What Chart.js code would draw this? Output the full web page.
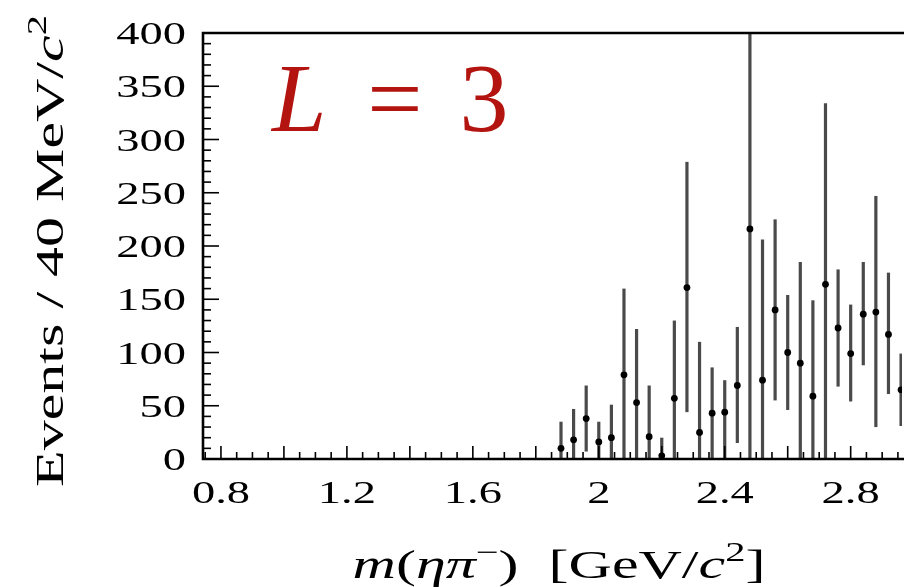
<!DOCTYPE html>
<html>
  <head>
    <meta charset="utf-8"/>
    <style type="text/css">
      body {
        margin: 0px;
        padding: 0px;
        background: #ffffff;
      }
      #container {
        width: 906px;
        height: 587px;
      }
    </style>
    <script src="https://cdn.jsdelivr.net/npm/chart.js@4.4.0/dist/chart.umd.min.js"></script>
  </head>
  <body>
    <div id="container"><canvas id="chart" width="906" height="587"></canvas></div>
  <script>
    // bin centres, GeV/c^2 (40 MeV bins)
    var mass = [1.88, 1.92, 1.96, 2.00, 2.04, 2.08, 2.12, 2.16, 2.20, 2.24,
                2.28, 2.32, 2.36, 2.40, 2.44, 2.48, 2.52, 2.56, 2.60, 2.64,
                2.68, 2.72, 2.76, 2.80, 2.84, 2.88, 2.92, 2.96];
    // events per bin
    var events = [10, 18, 38, 16, 20, 79, 53, 21, 3, 57,
                  161, 25, 43, 44, 69, 216, 74, 140, 100, 90,
                  59, 164, 123, 99, 136, 138, 117, 65];
    // lower / upper end of the error bar
    var errLow = [0, 0, 7, 0, 0, 0, 0, 0, 0, 0,
                  44, 0, 0, 0, 15, 0, 0, 55, 46, 0,
                  0, 0, 68, 54, 88, 30, 61, 31];
    var errHigh = [35, 47, 69, 35, 51, 160, 122, 69, 20, 130,
                   279, 110, 86, 74, 124, 430, 206, 225, 154, 185,
                   149, 334, 178, 145, 185, 247, 175, 99];

    var xTickLabels = ['0.8', '1.2', '1.6', '2', '2.4', '2.8'];
    var yTickLabels = ['0', '50', '100', '150', '200', '250', '300', '350', '400'];

    var SX = 1.5; // the figure's fonts are wide, stretch along the text
    var SERIF = '"Liberation Serif", "DejaVu Serif", serif';

    function drawParts(ctx, parts, x, y, align, rotate) {
      ctx.save();
      ctx.translate(x, y);
      if (rotate) ctx.rotate(-Math.PI / 2);
      ctx.scale(SX, 1);
      ctx.textAlign = 'left';
      ctx.textBaseline = 'alphabetic';
      var w = 0;
      parts.forEach(function(p) { ctx.font = p[1]; w += ctx.measureText(p[0]).width; });
      var cx = align === 'right' ? -w : (align === 'center' ? -w / 2 : 0);
      parts.forEach(function(p) {
        ctx.font = p[1];
        ctx.fillText(p[0], cx, p[2] || 0);
        cx += ctx.measureText(p[0]).width;
      });
      ctx.restore();
    }

    var errorBars = {
      id: 'errorBars',
      beforeDatasetsDraw: function(chart) {
        var ctx = chart.ctx, a = chart.chartArea;
        var xs = chart.scales.x, ys = chart.scales.y;
        ctx.save();
        ctx.beginPath();
        ctx.rect(a.left, a.top, a.right - a.left, a.bottom - a.top);
        ctx.clip();
        ctx.strokeStyle = '#4a4a4a';
        ctx.lineWidth = 3.2;
        for (var i = 0; i < mass.length; i++) {
          var px = xs.getPixelForValue(mass[i]);
          ctx.beginPath();
          ctx.moveTo(px, ys.getPixelForValue(errLow[i]));
          ctx.lineTo(px, ys.getPixelForValue(errHigh[i]));
          ctx.stroke();
        }
        ctx.restore();
      }
    };

    var frame = {
      id: 'frame',
      afterDraw: function(chart) {
        var ctx = chart.ctx, a = chart.chartArea;
        var xs = chart.scales.x, ys = chart.scales.y;
        ctx.save();
        ctx.strokeStyle = '#000';
        // ticks, pointing inward
        ctx.lineWidth = 1.6;
        for (var k = 15; k <= 60; k++) {
          var v = k * 0.05;
          if (v < xs.min || v > xs.max) continue;
          var px = xs.getPixelForValue(v);
          var len = (k % 4 === 0) ? 13 : 7;
          ctx.beginPath();
          ctx.moveTo(px, a.bottom);
          ctx.lineTo(px, a.bottom - len);
          ctx.stroke();
        }
        for (var j = 0; j <= 40; j++) {
          var py = ys.getPixelForValue(j * 10);
          var l = (j % 5 === 0) ? 16 : 8;
          ctx.beginPath();
          ctx.moveTo(a.left, py);
          ctx.lineTo(a.left + l, py);
          ctx.stroke();
        }
        // frame
        ctx.lineWidth = 2.6;
        ctx.beginPath();
        ctx.moveTo(a.right + 2, a.top);
        ctx.lineTo(a.left, a.top);
        ctx.lineTo(a.left, a.bottom);
        ctx.lineTo(a.right + 2, a.bottom);
        ctx.stroke();

        ctx.fillStyle = '#000';
        var tickFont = '31px ' + SERIF;
        yTickLabels.forEach(function(t) {
          drawParts(ctx, [[t, tickFont]], 186, ys.getPixelForValue(parseFloat(t)) + 11, 'right');
        });
        xTickLabels.forEach(function(t) {
          drawParts(ctx, [[t, tickFont]], xs.getPixelForValue(parseFloat(t)), 503, 'center');
        });

        var reg = '40px ' + SERIF, it = 'italic 40px ' + SERIF, sup = '27px ' + SERIF;
        drawParts(ctx, [
          ['m', it], ['(', reg], ['\u03b7\u03c0', it], ['\u2212', sup, -17], [')', reg],
          ['  [GeV/', reg], ['c', it], ['2', sup, -17], [']', reg]
        ], 559, 578, 'center');
        drawParts(ctx, [
          ['Events / 40 MeV/', reg], ['c', it], ['2', sup, -17]
        ], 63, 251, 'center', true);

        // L = 3
        ctx.fillStyle = '#b3140f';
        ctx.textBaseline = 'alphabetic';
        ctx.textAlign = 'left';
        ctx.font = 'italic 98px ' + SERIF;
        ctx.fillText('L', 272, 131);
        ctx.font = '98px ' + SERIF;
        ctx.textAlign = 'center';
        ctx.fillText('=', 395, 131);
        ctx.fillText('3', 484, 131);
        ctx.restore();
      }
    };

    var chart = new Chart(document.getElementById('chart'), {
      type: 'scatter',
      data: {
        datasets: [{
          data: mass.map(function(m, i) { return {x: m, y: events[i]}; }),
          pointRadius: 3.4,
          pointBackgroundColor: '#000',
          pointBorderWidth: 0
        }]
      },
      options: {
        responsive: false,
        animation: false,
        layout: { padding: { left: 203, top: 33, right: 0, bottom: 128 } },
        scales: {
          x: { type: 'linear', display: false, min: 0.743, max: 2.963 },
          y: { type: 'linear', display: false, min: 0, max: 400 }
        },
        plugins: {
          legend: { display: false },
          tooltip: { enabled: false }
        }
      },
      plugins: [errorBars, frame]
    });
  </script>
  </body>
</html>
